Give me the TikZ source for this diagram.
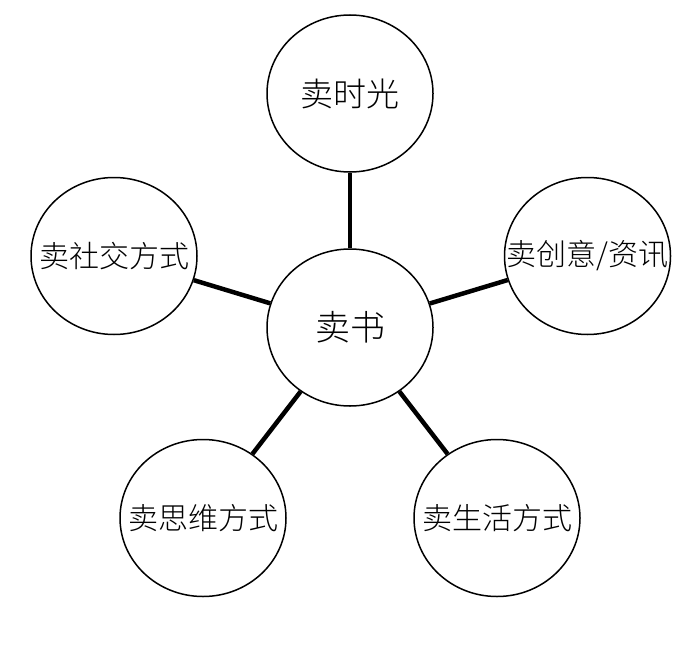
\documentclass[tikz,border=0pt]{standalone}
\usepackage{fontspec}
\usepackage{tikz}
\usetikzlibrary{shapes.geometric}
\newfontfamily\cjk{Noto Sans CJK SC Light}
\newcommand{\bubbletext}[1]{\makebox[0pt]{#1}}

\begin{document}
\begin{tikzpicture}[x=1pt,y=-1pt,
		bubble/.style={draw,ellipse,line width=1.5pt,minimum width=166pt,minimum height=157pt,inner sep=0pt,font=\cjk\fontsize{30}{30}\selectfont},
		spoke/.style={line width=4.5pt}]
		\useasboundingbox (0,0) rectangle (700,658);
		\node[bubble,font=\cjk\fontsize{35}{35}\selectfont] (shu) at (350,327.5) {\bubbletext{卖书}};
		\node[bubble,font=\cjk\fontsize{33}{33}\selectfont] (shiguang) at (350,93.5) {\bubbletext{卖时光}};
		\node[bubble] (shejiao) at (114,256) {\bubbletext{卖社交方式}};
		\node[bubble] (chuangyi) at (587.5,256) {\bubbletext{卖创意/资讯}};
		\node[bubble] (siwei) at (203,518) {\bubbletext{卖思维方式}};
		\node[bubble] (shenghuo) at (497,518) {\bubbletext{卖生活方式}};
		\foreach \leaf in {shiguang,shejiao,chuangyi,siwei,shenghuo}
		{
			\draw[spoke] (shu) -- (\leaf);
		}
\end{tikzpicture}
\end{document}
